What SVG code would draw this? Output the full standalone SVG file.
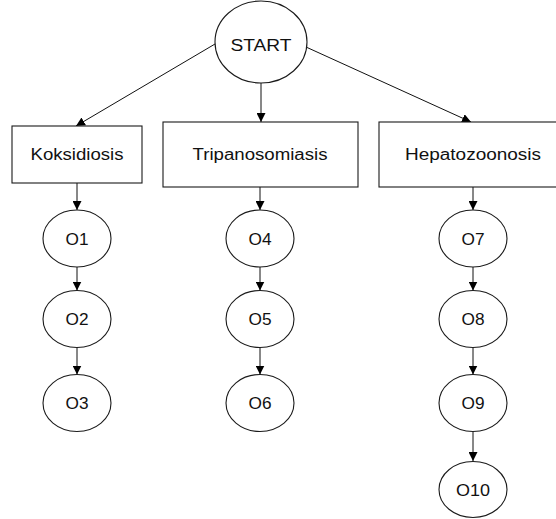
<svg xmlns="http://www.w3.org/2000/svg" width="556" height="519" viewBox="0 0 556 519">
  <defs>
    <marker id="arrow" markerUnits="userSpaceOnUse" markerWidth="9" markerHeight="9" refX="9" refY="4.5" orient="auto">
      <path d="M0,0 L9,4.5 L0,9 Z" fill="#000"/>
    </marker>
    <style>
      .shape { fill: #fff; stroke: #1a1a1a; stroke-width: 1.1; }
      .label { font-family: "Liberation Sans", Arial, sans-serif; font-size: 16px; fill: #111; text-anchor: middle; }
      .edge { stroke: #111; stroke-width: 1; fill: none; marker-end: url(#arrow); }
    </style>
  </defs>
  <rect width="556" height="519" fill="#fff"/>

  <g id="connectors">
    <line class="edge" x1="215" y1="44" x2="76" y2="126"/>
    <line class="edge" x1="261" y1="83" x2="261" y2="122"/>
    <line class="edge" x1="306" y1="47" x2="471" y2="122"/>
    <line class="edge" x1="77" y1="183" x2="77" y2="210"/>
    <line class="edge" x1="260" y1="187" x2="260" y2="210"/>
    <line class="edge" x1="473" y1="187" x2="473" y2="210"/>
    <line class="edge" x1="77" y1="267" x2="77" y2="290.5"/>
    <line class="edge" x1="77" y1="347.5" x2="77" y2="374.5"/>
    <line class="edge" x1="260" y1="267" x2="260" y2="290.5"/>
    <line class="edge" x1="260" y1="347.5" x2="260" y2="374.5"/>
    <line class="edge" x1="473" y1="267" x2="473" y2="290.5"/>
    <line class="edge" x1="473" y1="347.5" x2="473" y2="374.5"/>
    <line class="edge" x1="473" y1="431.5" x2="473" y2="461"/>
  </g>

  <g id="start">
    <ellipse class="shape" cx="261" cy="42" rx="46" ry="41"/>
    <text class="label" x="261" y="51" textLength="61" lengthAdjust="spacingAndGlyphs">START</text>
  </g>

  <g id="koksidiosis">
    <rect class="shape" x="12" y="126" width="130" height="57"/>
    <text class="label" x="77" y="160" textLength="93" lengthAdjust="spacingAndGlyphs">Koksidiosis</text>
  </g>
  <g id="tripanosomiasis">
    <rect class="shape" x="163" y="122" width="195" height="65"/>
    <text class="label" x="260" y="160" textLength="135" lengthAdjust="spacingAndGlyphs">Tripanosomiasis</text>
  </g>
  <g id="hepatozoonosis">
    <rect class="shape" x="379" y="122" width="182" height="65"/>
    <text class="label" x="473" y="160" textLength="136" lengthAdjust="spacingAndGlyphs">Hepatozoonosis</text>
  </g>

  <g id="o1">
    <ellipse class="shape" cx="77" cy="238.5" rx="34" ry="28.5"/>
    <text class="label" x="77" y="244.5" textLength="23" lengthAdjust="spacingAndGlyphs">O1</text>
  </g>
  <g id="o2">
    <ellipse class="shape" cx="77" cy="319" rx="34" ry="28.5"/>
    <text class="label" x="77" y="325" textLength="23" lengthAdjust="spacingAndGlyphs">O2</text>
  </g>
  <g id="o3">
    <ellipse class="shape" cx="77" cy="403" rx="34" ry="28.5"/>
    <text class="label" x="77" y="409" textLength="23" lengthAdjust="spacingAndGlyphs">O3</text>
  </g>

  <g id="o4">
    <ellipse class="shape" cx="260" cy="238.5" rx="34" ry="28.5"/>
    <text class="label" x="260" y="244.5" textLength="23" lengthAdjust="spacingAndGlyphs">O4</text>
  </g>
  <g id="o5">
    <ellipse class="shape" cx="260" cy="319" rx="34" ry="28.5"/>
    <text class="label" x="260" y="325" textLength="23" lengthAdjust="spacingAndGlyphs">O5</text>
  </g>
  <g id="o6">
    <ellipse class="shape" cx="260" cy="403" rx="34" ry="28.5"/>
    <text class="label" x="260" y="409" textLength="23" lengthAdjust="spacingAndGlyphs">O6</text>
  </g>

  <g id="o7">
    <ellipse class="shape" cx="473" cy="238.5" rx="34" ry="28.5"/>
    <text class="label" x="473" y="244.5" textLength="23" lengthAdjust="spacingAndGlyphs">O7</text>
  </g>
  <g id="o8">
    <ellipse class="shape" cx="473" cy="319" rx="34" ry="28.5"/>
    <text class="label" x="473" y="325" textLength="23" lengthAdjust="spacingAndGlyphs">O8</text>
  </g>
  <g id="o9">
    <ellipse class="shape" cx="473" cy="403" rx="34" ry="28.5"/>
    <text class="label" x="473" y="409" textLength="23" lengthAdjust="spacingAndGlyphs">O9</text>
  </g>
  <g id="o10">
    <ellipse class="shape" cx="473" cy="489.5" rx="34" ry="28"/>
    <text class="label" x="473" y="495.5" textLength="34" lengthAdjust="spacingAndGlyphs">O10</text>
  </g>
</svg>
